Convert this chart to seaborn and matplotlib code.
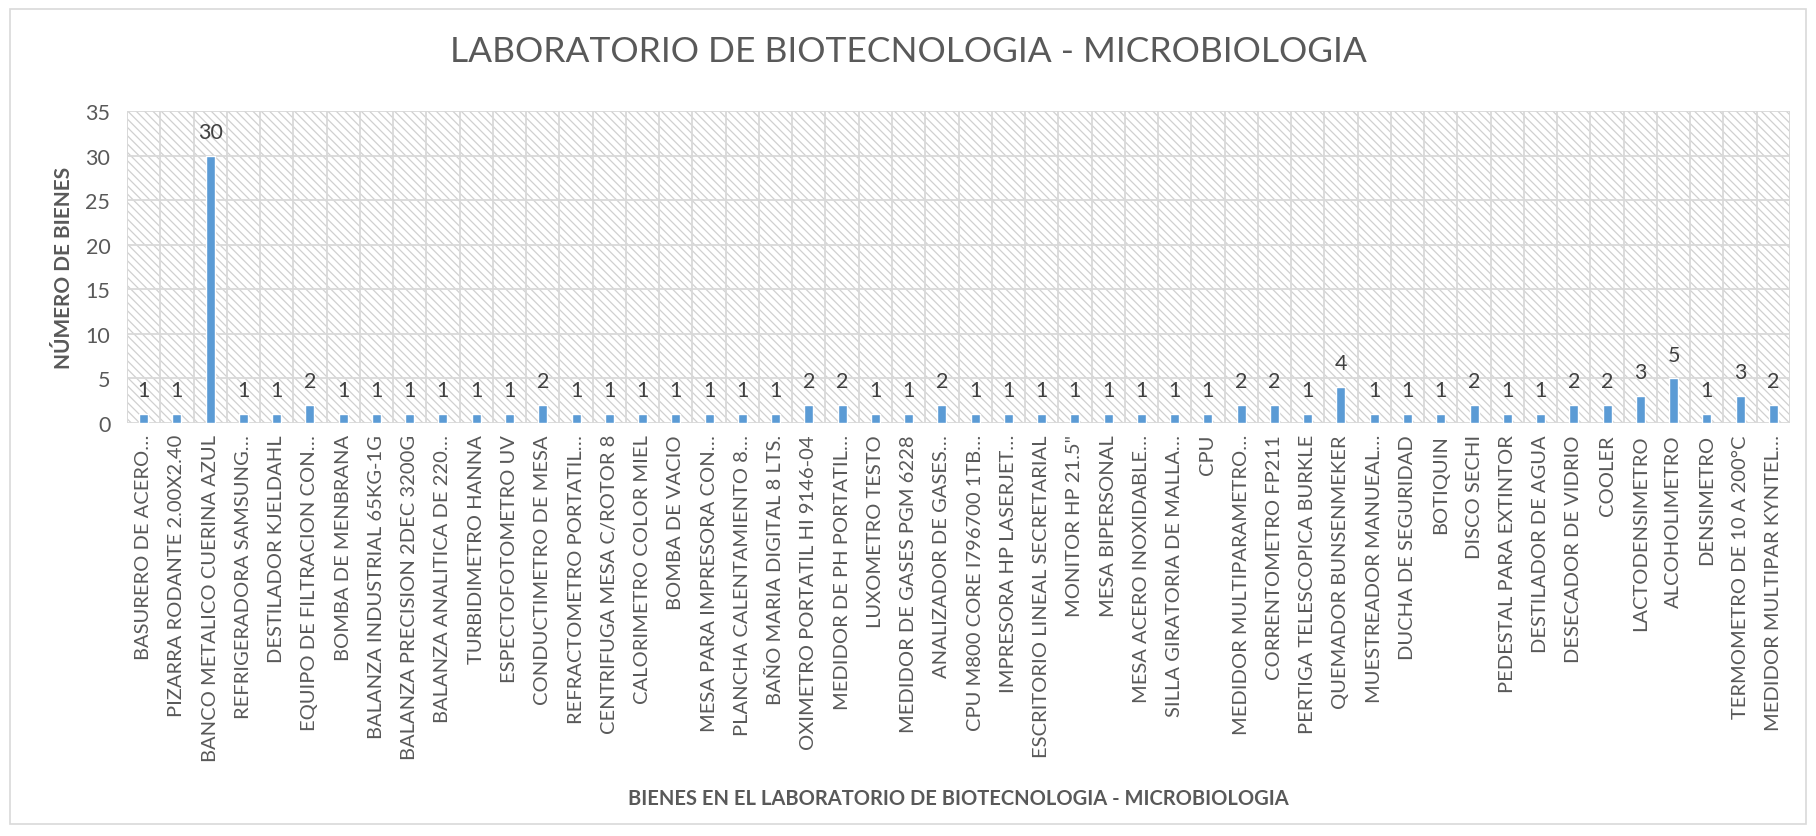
import matplotlib
matplotlib.use('Agg')
import matplotlib.pyplot as plt
import seaborn as sns
import pandas as pd
from matplotlib.patches import Rectangle
from matplotlib.ticker import MultipleLocator

# data
bienes = [
    'BASURERO DE ACERO…', 'PIZARRA RODANTE 2.00X2.40', 'BANCO METALICO CUERINA AZUL',
    'REFRIGERADORA SAMSUNG…', 'DESTILADOR KJELDAHL', 'EQUIPO DE FILTRACION CON…',
    'BOMBA DE MENBRANA', 'BALANZA INDUSTRIAL 65KG-1G', 'BALANZA PRECISION 2DEC 3200G',
    'BALANZA ANALITICA DE 220…', 'TURBIDIMETRO HANNA', 'ESPECTOFOTOMETRO UV',
    'CONDUCTIMETRO DE MESA', 'REFRACTOMETRO PORTATIL…', 'CENTRIFUGA MESA C/ROTOR 8',
    'CALORIMETRO COLOR MIEL', 'BOMBA DE VACIO', 'MESA PARA IMPRESORA CON…',
    'PLANCHA CALENTAMIENTO 8…', 'BAÑO MARIA DIGITAL 8 LTS.', 'OXIMETRO PORTATIL HI 9146-04',
    'MEDIDOR DE PH PORTATIL…', 'LUXOMETRO TESTO', 'MEDIDOR DE GASES PGM 6228',
    'ANALIZADOR DE GASES…', 'CPU M800 CORE I796700 1TB…', 'IMPRESORA HP LASERJET…',
    'ESCRITORIO LINEAL SECRETARIAL', 'MONITOR HP 21.5"', 'MESA BIPERSONAL',
    'MESA ACERO INOXIDABLE…', 'SILLA GIRATORIA DE MALLA…', 'CPU',
    'MEDIDOR MULTIPARAMETRO…', 'CORRENTOMETRO FP211', 'PERTIGA TELESCOPICA BURKLE',
    'QUEMADOR BUNSENMEKER', 'MUESTREADOR MANUEAL…', 'DUCHA DE SEGURIDAD',
    'BOTIQUIN', 'DISCO SECHI', 'PEDESTAL PARA EXTINTOR',
    'DESTILADOR DE AGUA', 'DESECADOR DE VIDRIO', 'COOLER',
    'LACTODENSIMETRO', 'ALCOHOLIMETRO', 'DENSIMETRO',
    'TERMOMETRO DE 10 A 200°C', 'MEDIDOR MULTIPAR KYNTEL…',
]
cantidad = [1, 1, 30, 1, 1, 2, 1, 1, 1, 1,
            1, 1, 2, 1, 1, 1, 1, 1, 1, 1,
            2, 2, 1, 1, 2, 1, 1, 1, 1, 1,
            1, 1, 1, 2, 2, 1, 4, 1, 1, 1,
            2, 1, 1, 2, 2, 3, 5, 1, 3, 2]
y_ticks = [0, 5, 10, 15, 20, 25, 30, 35]

df = pd.DataFrame({'bien': bienes, 'n': cantidad})

sns.set_style('white')
plt.rcParams['font.family'] = ['Lato', 'DejaVu Sans']
plt.rcParams['hatch.color'] = '#d0d0d0'
plt.rcParams['hatch.linewidth'] = 0.9

text_col = '#595959'
grid_col = '#d9d9d9'

fig = plt.figure(figsize=(18.16, 8.37), dpi=100)
ax = fig.add_axes([127/1816, 1 - 424/837, (1790 - 127)/1816, (424 - 112)/837])

# hatched plot background
ax.add_patch(Rectangle((0, 0), 1, 1, transform=ax.transAxes, facecolor='none',
                       edgecolor='#d0d0d0', hatch='\\\\\\\\', lw=0, zorder=0.1))

sns.barplot(data=df, x='bien', y='n', color='#5b9bd5', width=0.27,
            saturation=1, ax=ax, zorder=3)
ax.bar_label(ax.containers[0], padding=10, fontsize=15.5, color='#404040')

ax.set_xlim(-0.5, len(bienes) - 0.5)
ax.set_ylim(0, 35)
ax.set_yticks(y_ticks)
ax.xaxis.set_minor_locator(MultipleLocator(1, offset=0.5))
ax.set_axisbelow(True)
ax.grid(axis='y', color=grid_col, lw=1.3)
ax.grid(axis='x', which='minor', color=grid_col, lw=1.3)
ax.grid(axis='x', which='major', visible=False)
for s in ax.spines.values():
    s.set_visible(False)
ax.axvline(-0.5, color=grid_col, lw=1.3, zorder=0.5)
ax.axvline(len(bienes) - 0.5, color=grid_col, lw=1.3, zorder=0.5)

ax.tick_params(axis='both', which='both', length=0, colors=text_col)
ax.tick_params(axis='y', labelsize=15.5, pad=12)
ax.set_xticks(range(len(bienes)))
ax.set_xticklabels(bienes, rotation=90, fontsize=14.5, color=text_col, va='top', ha='center')
ax.tick_params(axis='x', pad=8)

ax.set_ylabel('NÚMERO DE BIENES', fontsize=15, fontweight='bold', color=text_col, labelpad=8)
ax.set_xlabel('BIENES EN EL LABORATORIO DE BIOTECNOLOGIA - MICROBIOLOGIA',
              fontsize=14.5, fontweight='bold', color=text_col)
ax.xaxis.set_label_coords(0.5, -(789 - 424) / (424 - 112))

fig.text(0.5, 1 - 52/837, 'LABORATORIO DE BIOTECNOLOGIA - MICROBIOLOGIA',
         ha='center', va='center', fontsize=25.5, color=text_col)

# chart frame
fig.add_artist(Rectangle((10/1816, 12/837), 1796/1816, 815/837, transform=fig.transFigure,
                         facecolor='none', edgecolor=grid_col, lw=1.2))

fig.savefig('out.png', dpi=100)
